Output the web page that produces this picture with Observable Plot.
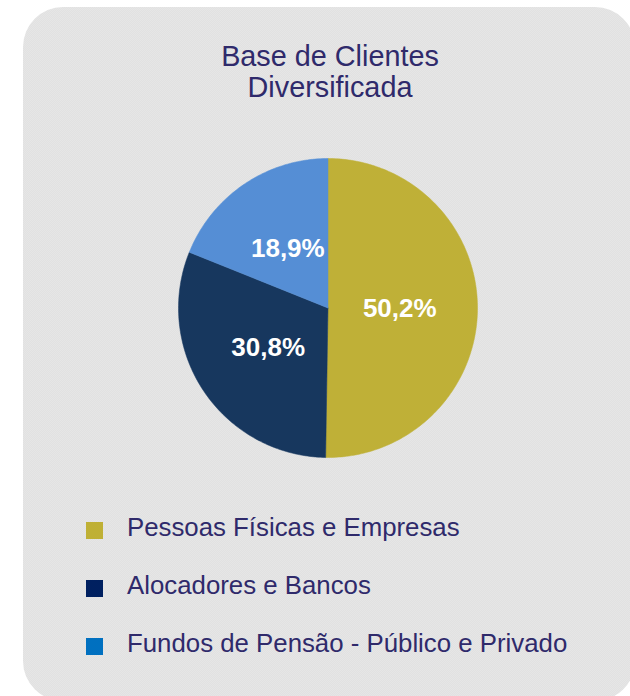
<!DOCTYPE html>
<html>
<head>
<meta charset="utf-8">
<script src="https://cdn.jsdelivr.net/npm/d3@7"></script>
<script src="https://cdn.jsdelivr.net/npm/@observablehq/plot@0.6"></script>
<style>
  html, body { margin: 0; padding: 0; background: #ffffff; }
  body { width: 630px; height: 696px; position: relative; overflow: hidden;
         font-family: "Liberation Sans", Arial, sans-serif; }
  #panel { position: absolute; left: 23px; top: 7px; width: 612px; height: 694px;
           border-radius: 40px;
           background: repeating-conic-gradient(#e1e1e1 0% 25%, #e6e6e6 0% 50%) 0 0 / 2px 2px; }
  #title { position: absolute; left: 30px; top: 41px; width: 600px; text-align: center;
           font-size: 28.8px; line-height: 31px; color: #2f2a6b; }
  #chart { position: absolute; left: 0; top: 140px; }
  .row { position: absolute; left: 86px; height: 17px; }
  .sw { position: absolute; left: 0; top: 0; width: 17px; height: 17px; }
  .lab { position: absolute; left: 41px; top: -7px; white-space: nowrap;
         font-size: 25.8px; line-height: 25.8px; color: #2f2a6b; }
</style>
</head>
<body>
<div id="panel"></div>
<div id="title"></div>
<div id="chart"></div>
<div id="legend"></div>
<script>
const titleLines = ["Base de Clientes", "Diversificada"];
const categories = ["Pessoas Físicas e Empresas", "Alocadores e Bancos", "Fundos de Pensão - Público e Privado"];
const shares = [50.2, 30.8, 18.9];
const sliceColors = ["#bfb037", "#17375e", "#558ed5"];
const legendColors = ["#bfb035", "#002060", "#0070c0"];

document.getElementById("title").innerHTML = titleLines.map(t => `<div>${t}</div>`).join("");

const total = d3.sum(shares);
let acc = 0;
const slices = categories.map((cat, i) => {
  const a0 = acc / total * 2 * Math.PI;
  acc += shares[i];
  const a1 = acc / total * 2 * Math.PI;
  return {cat, value: shares[i], a0, a1, mid: (a0 + a1) / 2};
});

const pts = slices.flatMap(s => {
  const n = Math.max(2, Math.ceil((s.a1 - s.a0) / (2 * Math.PI) * 360));
  const arr = [{cat: s.cat, x: 0, y: 0}];
  for (let k = 0; k <= n; k++) {
    const a = s.a0 + (s.a1 - s.a0) * k / n;
    arr.push({cat: s.cat, x: Math.sin(a), y: Math.cos(a)});
  }
  arr.push({cat: s.cat, x: 0, y: 0});
  return arr;
});

const labelR = 0.48;
const fmt = v => v.toFixed(1).replace(".", ",") + "%";

const chart = Plot.plot({
  width: 630,
  height: 340,
  margin: 0,
  style: {background: "transparent", overflow: "visible"},
  x: {domain: [-1, 1], range: [178, 477], axis: null},
  y: {domain: [-1, 1], range: [317, 18], axis: null},
  color: {domain: categories, range: sliceColors},
  marks: [
    Plot.line(pts, {x: "x", y: "y", z: "cat", fill: "cat", stroke: "cat", strokeWidth: 0.5, curve: "linear"}),
    Plot.text(slices, {
      x: d => labelR * Math.sin(d.mid),
      y: d => labelR * Math.cos(d.mid),
      text: d => fmt(d.value),
      fill: "white",
      fontSize: 26,
      fontWeight: "bold",
      fontFamily: "Liberation Sans, Arial, sans-serif"
    })
  ]
});
document.getElementById("chart").appendChild(chart);

const legend = document.getElementById("legend");
categories.forEach((cat, i) => {
  const row = document.createElement("div");
  row.className = "row";
  row.style.top = (522 + i * 58) + "px";
  row.innerHTML = `<div class="sw" style="background:${legendColors[i]}"></div><div class="lab">${cat}</div>`;
  legend.appendChild(row);
});
</script>
</body>
</html>
